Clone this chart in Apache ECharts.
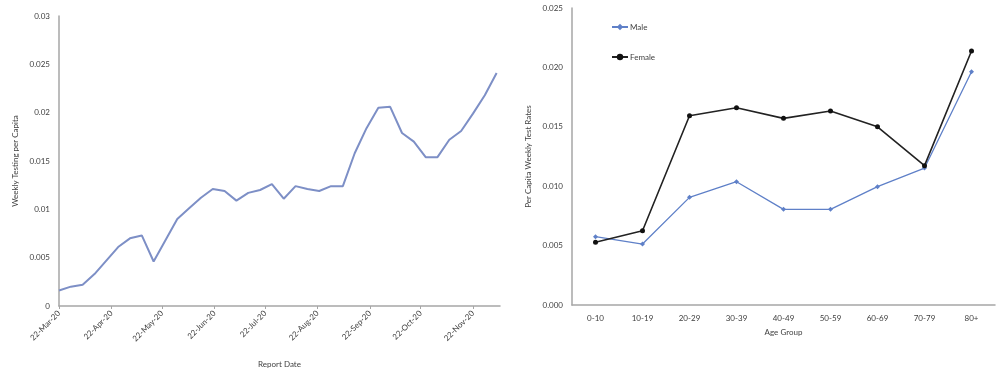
<!DOCTYPE html>
<html>
<head>
<meta charset="utf-8">
<script src="https://cdn.jsdelivr.net/npm/echarts@6/dist/echarts.min.js"></script>
<style>html,body{margin:0;padding:0;background:#fff}#c{width:1000px;height:379px}</style>
</head>
<body>
<div id="c"></div>
<script>
// Left chart: weekly testing per capita (weekly points starting 22-Mar-20)
const startDate = '2020-03-22';
const axisEndDays = 261;
const weeklyTesting = [0.0016, 0.0020, 0.0022, 0.0033, 0.0047, 0.0061, 0.0070, 0.0073, 0.0046, 0.0068,
  0.0090, 0.0101, 0.0112, 0.0121, 0.0119, 0.0109, 0.0117, 0.0120, 0.0126, 0.0111,
  0.0124, 0.0121, 0.0119, 0.0124, 0.0124, 0.0158, 0.0184, 0.0205, 0.0206, 0.0179,
  0.0170, 0.0154, 0.0154, 0.0172, 0.0181, 0.0199, 0.0218, 0.0241];
const leftYTicks = [0, 0.005, 0.01, 0.015, 0.02, 0.025, 0.03];

// Right chart: per capita weekly test rates by age group
const ageGroups = ['0-10', '10-19', '20-29', '30-39', '40-49', '50-59', '60-69', '70-79', '80+'];
const maleRates = [0.00575, 0.00513, 0.00906, 0.01038, 0.00805, 0.00805, 0.00996, 0.01153, 0.01964];
const femaleRates = [0.00528, 0.00625, 0.01593, 0.01660, 0.01571, 0.01633, 0.01500, 0.01173, 0.02138];

const MONTHS = ['Jan','Feb','Mar','Apr','May','Jun','Jul','Aug','Sep','Oct','Nov','Dec'];
const t0 = new Date(startDate + 'T00:00:00Z').getTime();
const DAY = 86400000;
const dayCats = [];
for (let d = 0; d <= axisEndDays; d++) {
  const dt = new Date(t0 + d * DAY);
  dayCats.push(dt.getUTCDate() + '-' + MONTHS[dt.getUTCMonth()] + '-' + String(dt.getUTCFullYear()).slice(2));
}
const leftSeries = dayCats.map(() => null);
weeklyTesting.forEach((v, k) => { leftSeries[k * 7] = v; });
const isTickDay = (idx, val) => String(val).startsWith('22-');

const FONT = 'Lato';
const LBL = '#404040';
const AX = '#a6a6a6';

const chart = echarts.init(document.getElementById('c'), null, {renderer: 'canvas'});
chart.setOption({
  animation: false,
  textStyle: {fontFamily: FONT},
  grid: [
    {left: 59, top: 16, width: 441, height: 290},
    {left: 572, top: 8, width: 423, height: 297}
  ],
  legend: {
    orient: 'vertical', left: 606, top: 18, itemGap: 22,
    itemWidth: 16, itemHeight: 8,
    textStyle: {fontFamily: FONT, fontSize: 8, color: LBL, padding: [0, 0, 0, -3]},
    data: ['Male', 'Female']
  },
  xAxis: [
    {
      gridIndex: 0, type: 'category', data: dayCats, boundaryGap: false,
      axisLine: {lineStyle: {color: AX, width: 1.5}},
      axisTick: {show: true, interval: isTickDay, length: 3, lineStyle: {color: AX}},
      axisLabel: {interval: isTickDay, rotate: 45, fontSize: 8, color: LBL, fontFamily: FONT, margin: 6},
      splitLine: {show: false},
      name: 'Report Date', nameLocation: 'middle', nameGap: 54,
      nameTextStyle: {fontSize: 8, color: LBL, fontFamily: FONT}
    },
    {
      gridIndex: 1, type: 'category', data: ageGroups, boundaryGap: true,
      axisLine: {lineStyle: {color: AX, width: 1.5}},
      axisTick: {show: false},
      axisLabel: {fontSize: 8, color: LBL, fontFamily: FONT, margin: 9},
      name: 'Age Group', nameLocation: 'middle', nameGap: 23,
      nameTextStyle: {fontSize: 8, color: LBL, fontFamily: FONT}
    }
  ],
  yAxis: [
    {
      gridIndex: 0, type: 'value', min: leftYTicks[0], max: leftYTicks[leftYTicks.length - 1], interval: 0.005,
      axisLine: {show: true, lineStyle: {color: AX, width: 1.5}},
      axisTick: {show: false},
      splitLine: {show: false},
      axisLabel: {fontSize: 8, color: LBL, fontFamily: FONT, margin: 9, formatter: v => String(+v.toFixed(3))},
      name: 'Weekly Testing per Capita', nameLocation: 'middle', nameGap: 40,
      nameTextStyle: {fontSize: 8, color: LBL, fontFamily: FONT}
    },
    {
      gridIndex: 1, type: 'value', min: 0, max: 0.025, interval: 0.005,
      axisLine: {show: true, lineStyle: {color: AX, width: 1.5}},
      axisTick: {show: false},
      splitLine: {show: false},
      axisLabel: {fontSize: 8, color: LBL, fontFamily: FONT, margin: 9, formatter: v => v.toFixed(3)},
      name: 'Per Capita Weekly Test Rates', nameLocation: 'middle', nameGap: 40,
      nameTextStyle: {fontSize: 8, color: LBL, fontFamily: FONT}
    }
  ],
  series: [
    {
      name: 'Weekly Testing', type: 'line', xAxisIndex: 0, yAxisIndex: 0,
      data: leftSeries, connectNulls: true, showSymbol: false, symbol: 'none',
      lineStyle: {color: '#7d8fc6', width: 2}, itemStyle: {color: '#7d8fc6'}
    },
    {
      name: 'Male', type: 'line', xAxisIndex: 1, yAxisIndex: 1, data: maleRates,
      symbol: 'diamond', symbolSize: 5,
      lineStyle: {color: '#5f80c8', width: 1.3}, itemStyle: {color: '#5f80c8'}
    },
    {
      name: 'Female', type: 'line', xAxisIndex: 1, yAxisIndex: 1, data: femaleRates,
      symbol: 'circle', symbolSize: 5,
      lineStyle: {color: '#222222', width: 1.6}, itemStyle: {color: '#111111'}
    }
  ]
});
</script>
</body>
</html>
